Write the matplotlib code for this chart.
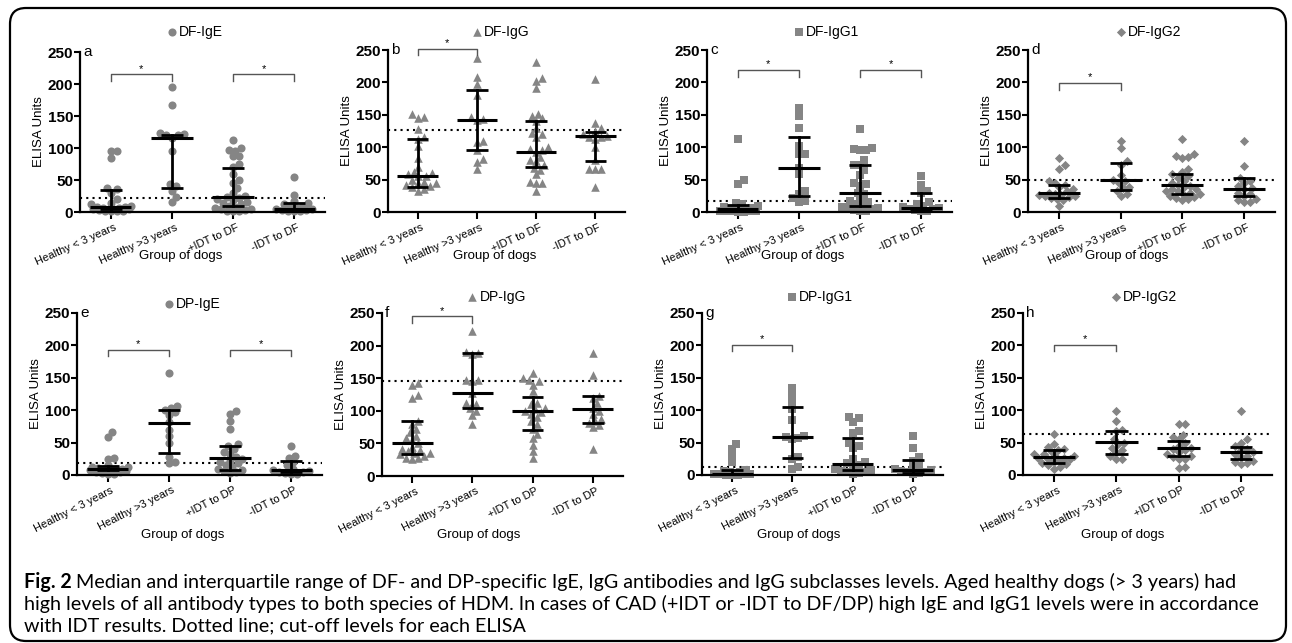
import numpy as np
import matplotlib
matplotlib.use("Agg")
import matplotlib.pyplot as plt
from matplotlib.patches import FancyBboxPatch
from matplotlib.transforms import ScaledTranslation

plt.rcParams['font.family'] = ['Liberation Sans', 'DejaVu Sans']

W, H = 1292, 643

groups_df = ["Healthy < 3 years", "Healthy >3 years", "+IDT to DF", "-IDT to DF"]
groups_dp = ["Healthy < 3 years", "Healthy >3 years", "+IDT to DP", "-IDT to DP"]

# ---- DF panels ----
df_ige = [
    [96, 95, 85, 38, 36, 30, 20, 14, 12, 10, 8, 8, 7, 6, 5, 5, 4, 4, 3, 2, 2, 1, 1],
    [195, 167, 124, 122, 121, 120, 115, 95, 44, 40, 33, 23, 15],
    [113, 100, 97, 96, 88, 87, 75, 70, 60, 50, 45, 38, 30, 25, 24, 22, 20, 18, 15,
     14, 12, 10, 8, 6, 5, 4, 3, 2, 2, 1],
    [55, 27, 17, 14, 12, 10, 8, 6, 5, 4, 3, 3, 2, 1, 1],
]
df_ige_med = [8, 115, 24, 5]
df_ige_q1 = [5, 37, 9, 3]
df_ige_q3 = [34, 121, 69, 14]

df_igg = [
    [151, 147, 145, 128, 115, 112, 102, 83, 70, 62, 60, 58, 56, 55, 50, 47, 45, 44,
     42, 40, 38, 36, 33],
    [237, 209, 198, 180, 147, 143, 142, 110, 108, 95, 82, 77, 66],
    [232, 207, 202, 192, 152, 148, 145, 140, 130, 122, 120, 115, 100, 97, 95, 92,
     85, 80, 78, 73, 68, 65, 58, 47, 45, 44, 32],
    [206, 138, 130, 125, 120, 118, 116, 115, 112, 100, 80, 67, 67, 67, 38],
]
df_igg_med = [56, 142, 93, 117]
df_igg_q1 = [38, 96, 69, 78]
df_igg_q3 = [112, 188, 141, 123]

df_igg1 = [
    [112, 49, 43, 14, 12, 10, 8, 6, 5, 5, 4, 3, 2, 2, 1, 1, 1, 0.5, 0.5],
    [160, 148, 130, 102, 90, 89, 68, 58, 33, 28, 21, 17, 16],
    [128, 98, 97, 95, 95, 80, 73, 72, 65, 57, 44, 43, 40, 30, 28, 20, 17, 15, 12,
     10, 8, 6, 5, 4, 3, 2, 1],
    [55, 42, 33, 30, 15, 12, 10, 8, 6, 5, 4, 3, 2, 1],
]
df_igg1_med = [5, 68, 30, 6]
df_igg1_q1 = [2, 25, 10, 3]
df_igg1_q3 = [11, 116, 72, 29]

df_igg2 = [
    [84, 72, 67, 48, 45, 42, 38, 35, 33, 30, 28, 27, 26, 25, 24, 23, 22, 20, 18, 10],
    [110, 98, 78, 73, 57, 50, 48, 45, 38, 37, 32, 28, 25],
    [113, 90, 86, 85, 84, 67, 62, 58, 55, 52, 48, 45, 42, 40, 38, 36, 35, 33, 32,
     30, 28, 27, 25, 23, 22, 20, 18],
    [110, 71, 53, 48, 45, 40, 37, 35, 30, 28, 25, 20, 18, 16, 15],
]
df_igg2_med = [29, 49, 41, 36]
df_igg2_q1 = [22, 34, 28, 25]
df_igg2_q3 = [41, 75, 58, 52]

# ---- DP panels ----
dp_ige = [
    [67, 59, 26, 25, 15, 13, 12, 11, 10, 9, 9, 8, 7, 6, 5, 4, 3, 2, 1],
    [158, 106, 104, 100, 97, 92, 82, 70, 60, 50, 28, 20, 18],
    [98, 94, 83, 71, 48, 45, 40, 35, 32, 28, 25, 22, 20, 18, 15, 12, 10, 8, 6, 5, 3],
    [45, 29, 27, 20, 15, 10, 8, 6, 5, 4, 3, 2, 1],
]
dp_ige_med = [9, 81, 26, 7]
dp_ige_q1 = [7, 34, 8, 5]
dp_ige_q3 = [14, 100, 44, 22]

dp_igg = [
    [142, 140, 124, 120, 85, 80, 72, 68, 62, 58, 55, 50, 45, 42, 40, 38, 36, 35,
     33, 30, 28, 27, 26],
    [222, 190, 189, 187, 148, 147, 145, 128, 112, 110, 105, 100, 93, 80],
    [158, 150, 148, 145, 140, 130, 112, 110, 105, 103, 100, 98, 95, 90, 85, 80,
     72, 65, 58, 48, 38, 28],
    [188, 155, 122, 120, 112, 105, 100, 95, 88, 85, 82, 78, 75, 42],
]
dp_igg_med = [51, 128, 99, 102]
dp_igg_q1 = [33, 105, 71, 82]
dp_igg_q3 = [84, 189, 121, 123]

dp_igg1 = [
    [48, 40, 30, 20, 8, 6, 5, 4, 3, 2, 2, 1, 1, 0.5, 0.5, 0.3],
    [135, 125, 112, 102, 85, 60, 58, 57, 55, 28, 25, 12, 10],
    [90, 88, 82, 68, 65, 50, 45, 42, 25, 20, 18, 15, 12, 10, 8, 6, 5, 4, 3, 2],
    [60, 42, 28, 22, 15, 12, 10, 8, 6, 5, 4, 3, 2],
]
dp_igg1_med = [2, 58, 17, 8]
dp_igg1_q1 = [0.5, 26, 8, 3]
dp_igg1_q3 = [7, 105, 57, 23]

dp_igg2 = [
    [64, 48, 43, 40, 38, 35, 33, 32, 30, 28, 27, 26, 25, 24, 22, 20, 18, 17, 15, 12, 10],
    [99, 83, 70, 68, 55, 50, 48, 42, 38, 35, 30, 25, 24],
    [79, 79, 62, 58, 55, 50, 45, 42, 40, 38, 35, 32, 30, 28, 25, 24, 12, 11],
    [98, 55, 50, 44, 40, 38, 35, 32, 30, 28, 22, 20, 18, 17],
]
dp_igg2_med = [28, 51, 42, 35]
dp_igg2_q1 = [19, 33, 30, 25]
dp_igg2_q3 = [38, 68, 53, 43]

titles = ["DF-IgE", "DF-IgG", "DF-IgG1", "DF-IgG2",
          "DP-IgE", "DP-IgG", "DP-IgG1", "DP-IgG2"]
letters = list("abcdefgh")
cutoffs = [22, 127, 17, 49, 18, 145, 12, 64]
brackets = [
    [(0, 1, 215), (2, 3, 215)],
    [(0, 1, 252)],
    [(0, 1, 219), (2, 3, 219)],
    [(0, 1, 199)],
    [(0, 1, 193), (2, 3, 193)],
    [(0, 1, 245)],
    [(0, 1, 201)],
    [(0, 1, 201)],
]

panels = [
    (df_ige, df_ige_med, df_ige_q1, df_ige_q3),
    (df_igg, df_igg_med, df_igg_q1, df_igg_q3),
    (df_igg1, df_igg1_med, df_igg1_q1, df_igg1_q3),
    (df_igg2, df_igg2_med, df_igg2_q1, df_igg2_q3),
    (dp_ige, dp_ige_med, dp_ige_q1, dp_ige_q3),
    (dp_igg, dp_igg_med, dp_igg_q1, dp_igg_q3),
    (dp_igg1, dp_igg1_med, dp_igg1_q1, dp_igg1_q3),
    (dp_igg2, dp_igg2_med, dp_igg2_q1, dp_igg2_q3),
]

# layout in pixels: left, right, row of 250, row of 0, title row, xlabel row, xlabel x frac
boxes = [
    (80, 325, 52, 212, 32, 256, 0.41), (388, 625, 50, 212, 32, 256, 0.45),
    (707, 952, 50, 212, 32, 256, 0.39), (1028, 1275, 50, 212, 32, 256, 0.40),
    (77, 322, 313, 475, 304, 535, 0.43), (382, 623, 313, 476, 297, 535, 0.40),
    (702, 943, 313, 475, 297, 535, 0.40), (1023, 1272, 313, 475, 297, 535, 0.40),
]
markers = ['o', '^', 's', 'D'] * 2
msizes = [34, 38, 30, 22] * 2
gray = '#858585'


def swarm(vals, pxx, pxy, d=6.0, wmax=21):
    # simple beeswarm in pixel space with a width cap, returns x offsets in data units
    order = np.argsort(vals)
    placed = []
    offs = np.zeros(len(vals))
    cands = [0.0]
    step = d / 3
    k = 1
    while k * step <= wmax:
        cands += [k * step, -k * step]
        k += 1
    for i in order:
        y = vals[i] * pxy
        best, bestd = 0.0, -1
        for c in cands:
            md = min([np.hypot(c - px, y - py) for px, py in placed] + [1e9])
            if md >= d:
                best = c
                break
            if md > bestd:
                best, bestd = c, md
        placed.append((best, y))
        offs[i] = best / pxx
    return offs


fig = plt.figure(figsize=(W / 100, H / 100), dpi=100)
bg = fig.add_axes([0, 0, 1, 1], zorder=-1)
bg.set_xlim(0, W)
bg.set_ylim(H, 0)
bg.axis('off')
bg.add_patch(FancyBboxPatch((10, 8), 1276, 633, boxstyle="round,pad=0,rounding_size=16",
                            fc='white', ec='black', lw=1.6))

shift = ScaledTranslation(3 / 100, -2 / 100, fig.dpi_scale_trans)
xl = (-0.5, 3.5)
for p, (vals, med, q1, q3) in enumerate(panels):
    l, r, t, b, ty, lby, lbx = boxes[p]
    ax = fig.add_axes([l / W, 1 - b / H, (r - l) / W, (b - t) / H])
    ax.set_xlim(*xl)
    ax.set_ylim(0, 250)
    pxx = (r - l) / (xl[1] - xl[0])
    pxy = (b - t) / 250
    for g in range(4):
        v = np.array(vals[g], dtype=float)
        xs = g + swarm(v, pxx, pxy)
        ax.scatter(xs, v, marker=markers[p], s=msizes[p], color=gray,
                   linewidths=0, clip_on=False, zorder=2)
        ax.plot([g - 0.34, g + 0.34], [med[g], med[g]], color='black', lw=2.2, zorder=3,
                solid_capstyle='butt')
        ax.plot([g, g], [q1[g], q3[g]], color='black', lw=2, zorder=3)
        for q in (q1[g], q3[g]):
            ax.plot([g - 0.18, g + 0.18], [q, q], color='black', lw=2, zorder=3,
                    solid_capstyle='butt')
    ax.plot(xl, [cutoffs[p], cutoffs[p]], color='black', lw=1.5, ls=(0, (1, 2)),
            zorder=1, clip_on=False)
    for g1, g2, yb in brackets[p]:
        ax.plot([g1, g1, g2, g2], [yb - 10, yb, yb, yb - 10], color='#555555', lw=1,
                clip_on=False)
        ax.text((g1 + g2) / 2, yb + 1, '*', ha='center', va='bottom', fontsize=8,
                clip_on=False)

    for s in ('top', 'right'):
        ax.spines[s].set_visible(False)
    ax.spines['left'].set_bounds(0, 250)
    ax.spines['left'].set_linewidth(1.6)
    ax.spines['bottom'].set_linewidth(1.6)
    ax.set_yticks([0, 50, 100, 150, 200, 250])
    ax.tick_params(axis='y', length=4, width=1.5, labelsize=11, pad=1)
    ax.tick_params(axis='x', length=5, width=1.5, labelsize=8, pad=1)
    for lab in ax.get_yticklabels():
        lab.set_fontweight('bold')
    ax.set_xticks(range(4))
    ax.set_xticklabels(groups_df if p < 4 else groups_dp, rotation=24 if p < 4 else 27,
                       ha='right', rotation_mode='anchor')
    for lab in ax.get_xticklabels():
        lab.set_transform(lab.get_transform() + shift)
    ax.set_ylabel("ELISA Units", fontsize=9.5, va='center')
    ax.yaxis.set_label_coords(-41 / (r - l), 0.5)
    ax.set_xlabel("Group of dogs", fontsize=9.5, va='center')
    ax.xaxis.set_label_coords(lbx, -(lby - b) / (b - t))
    ax.text(0.012, 1.0, letters[p], transform=ax.transAxes, ha='left', va='center',
            fontsize=11)
    # title marker + text
    ax.scatter([1], [(b - ty) / pxy], marker=markers[p], s=msizes[p], color=gray,
               linewidths=0, clip_on=False)
    ax.text(1 + 7 / pxx, (b - ty) / pxy, titles[p], ha='left', va='center',
            fontsize=10, clip_on=False)

# caption
cap_font = 'Lato'
line1 = ("Median and interquartile range of DF- and DP-specific IgE, IgG antibodies and "
         "IgG subclasses levels. Aged healthy dogs (> 3 years) had")
line2 = ("high levels of all antibody types to both species of HDM. In cases of CAD "
         "(+IDT or -IDT to DF/DP) high IgE and IgG1 levels were in accordance")
line3 = "with IDT results. Dotted line; cut-off levels for each ELISA"

fs = 12.5
renderer = fig.canvas.get_renderer()
t0 = bg.text(24, 582, "Fig. 2 ", fontsize=fs, fontweight='bold', family=cap_font,
             va='center', ha='left')
w0 = t0.get_window_extent(renderer).width
t1 = bg.text(24 + w0, 582, line1, fontsize=fs, family=cap_font, va='center', ha='left')
w1 = t1.get_window_extent(renderer).width
scale = (1245 - 24) / (w0 + w1)
fs2 = fs * scale
t0.set_fontsize(fs2)
w0 = t0.get_window_extent(renderer).width
t1.set_fontsize(fs2)
t1.set_x(24 + w0)
bg.text(24, 604, line2, fontsize=fs2, family=cap_font, va='center', ha='left')
bg.text(24, 626, line3, fontsize=fs2, family=cap_font, va='center', ha='left')

fig.savefig("out.png", dpi=100)
